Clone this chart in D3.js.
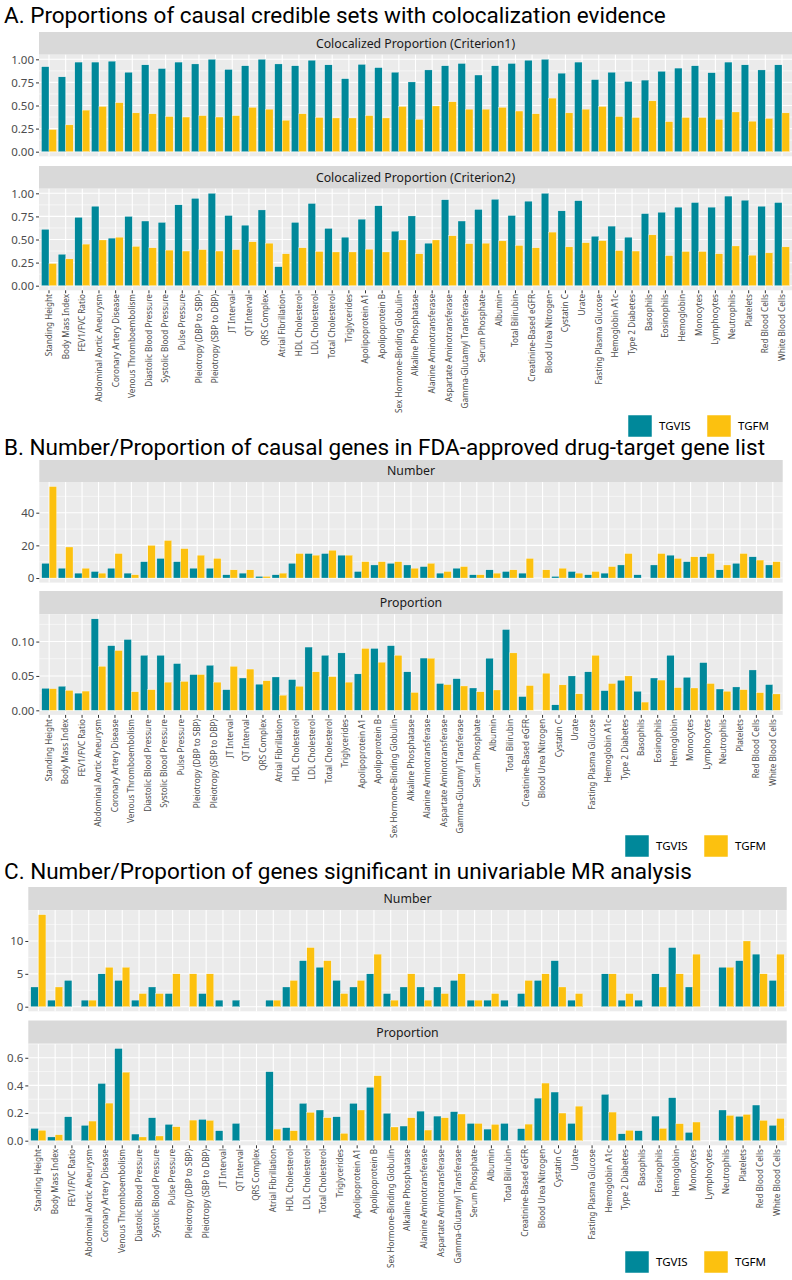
<!DOCTYPE html>
<html>
<head>
<meta charset="utf-8">
<script src="https://cdn.jsdelivr.net/npm/d3@7"></script>
<style>
  body { margin: 0; background: #fff; }
  text { font-family: "Noto Sans", sans-serif; }
</style>
</head>
<body>
<script>
// categories (same order in all three figures)
var categories = ["Standing Height", "Body Mass Index", "FEV1/FVC Ratio", "Abdominal Aortic Aneurysm",
  "Coronary Artery Disease", "Venous Thromboembolism", "Diastolic Blood Pressure", "Systolic Blood Pressure",
  "Pulse Pressure", "Pleiotropy (DBP to SBP)", "Pleiotropy (SBP to DBP)", "JT Interval", "QT Interval",
  "QRS Complex", "Atrial Fibrillation", "HDL Cholesterol", "LDL Cholesterol", "Total Cholesterol",
  "Triglycerides", "Apolipoprotein A1", "Apolipoprotein B", "Sex Hormone-Binding Globulin",
  "Alkaline Phosphatase", "Alanine Aminotransferase", "Aspartate Aminotransferase",
  "Gamma-Glutamyl Transferase", "Serum Phosphate", "Albumin", "Total Bilirubin", "Creatinine-Based eGFR",
  "Blood Urea Nitrogen", "Cystatin C", "Urate", "Fasting Plasma Glucose", "Hemoglobin A1c",
  "Type 2 Diabetes", "Basophils", "Eosinophils", "Hemoglobin", "Monocytes", "Lymphocytes", "Neutrophils",
  "Platelets", "Red Blood Cells", "White Blood Cells"];
var methods = ["TGVIS", "TGFM"];

// A. colocalized proportion
var colocC1_TGVIS = [0.92, 0.81, 0.97, 0.97, 0.98, 0.86, 0.94, 0.90, 0.97, 0.95, 1.00, 0.89, 0.93, 1.00, 0.95,
  0.93, 0.99, 0.94, 0.79, 0.945, 0.91, 0.86, 0.755, 0.885, 0.93, 0.955, 0.83, 0.93, 0.955, 0.99, 1.00, 0.85,
  0.97, 0.78, 0.86, 0.76, 0.775, 0.87, 0.905, 0.93, 0.855, 0.97, 0.94, 0.885, 0.94];
var colocC1_TGFM = [0.24, 0.29, 0.45, 0.49, 0.53, 0.42, 0.41, 0.38, 0.375, 0.39, 0.375, 0.39, 0.48, 0.46, 0.34,
  0.41, 0.37, 0.365, 0.365, 0.39, 0.365, 0.49, 0.35, 0.495, 0.54, 0.46, 0.46, 0.48, 0.44, 0.41, 0.58, 0.42,
  0.46, 0.49, 0.38, 0.37, 0.55, 0.325, 0.37, 0.37, 0.35, 0.43, 0.33, 0.36, 0.42];
var colocC2_TGVIS = [0.61, 0.34, 0.74, 0.86, 0.515, 0.75, 0.70, 0.685, 0.875, 0.945, 1.00, 0.76, 0.655, 0.82, 0.205,
  0.685, 0.89, 0.62, 0.525, 0.72, 0.865, 0.59, 0.755, 0.46, 0.93, 0.70, 0.825, 0.935, 0.76, 0.915, 1.00, 0.81,
  0.92, 0.535, 0.645, 0.525, 0.78, 0.795, 0.85, 0.90, 0.85, 0.97, 0.925, 0.86, 0.90];
var colocC2_TGFM = [0.24, 0.29, 0.45, 0.495, 0.525, 0.425, 0.41, 0.385, 0.375, 0.39, 0.375, 0.39, 0.475, 0.46, 0.345,
  0.41, 0.37, 0.365, 0.365, 0.395, 0.365, 0.495, 0.345, 0.495, 0.54, 0.455, 0.46, 0.485, 0.435, 0.41, 0.58, 0.42,
  0.465, 0.487, 0.38, 0.375, 0.55, 0.325, 0.37, 0.37, 0.345, 0.43, 0.33, 0.355, 0.42];
var colocTicks = [0, 0.25, 0.5, 0.75, 1];
var colocTickLabels = ["0.00", "0.25", "0.50", "0.75", "1.00"];

// B. FDA-approved drug-target genes
var fdaNumber_TGVIS = [9, 6, 3, 4, 6, 3, 10, 12, 10, 6, 6, 2, 3, 1, 2, 9, 15, 15, 14, 4, 8, 9, 8, 7, 3, 6, 2, 5, 4, 3,
  0, 1, 4, 2, 3, 8, 2, 8, 14, 10, 13, 5, 9, 13, 8];
var fdaNumber_TGFM = [56, 19, 6, 3, 15, 2, 20, 23, 18, 14, 12, 5, 5, 1, 3, 15, 14, 17, 14, 10, 10, 10, 6, 9, 4, 7, 2,
  3, 5, 12, 5, 6, 3, 4, 7, 15, 0, 15, 12, 13, 15, 8, 15, 11, 10];
var fdaProp_TGVIS = [0.032, 0.035, 0.025, 0.133, 0.094, 0.103, 0.080, 0.080, 0.068, 0.052, 0.0655, 0.030, 0.047,
  0.038, 0.0485, 0.0447, 0.092, 0.080, 0.0835, 0.053, 0.090, 0.094, 0.056, 0.076, 0.039, 0.046, 0.0325, 0.0757,
  0.1175, 0.020, 0, 0.008, 0.050, 0.056, 0.0286, 0.0437, 0.0277, 0.047, 0.080, 0.048, 0.0694, 0.031, 0.034,
  0.0587, 0.0374];
var fdaProp_TGFM = [0.0315, 0.029, 0.028, 0.064, 0.087, 0.027, 0.030, 0.041, 0.042, 0.052, 0.041, 0.064, 0.060,
  0.043, 0.022, 0.035, 0.056, 0.049, 0.041, 0.090, 0.070, 0.080, 0.026, 0.0757, 0.0374, 0.0354, 0.027, 0.0296,
  0.0835, 0.036, 0.054, 0.037, 0.024, 0.080, 0.039, 0.050, 0.012, 0.044, 0.033, 0.0325, 0.039, 0.0277, 0.030,
  0.0257, 0.0238];
var fdaNumberTicks = [0, 20, 40];
var fdaNumberTickLabels = ["0", "20", "40"];
var fdaPropTicks = [0, 0.05, 0.10];
var fdaPropTickLabels = ["0.00", "0.05", "0.10"];

// C. univariable MR
var mrNumber_TGVIS = [3, 1, 4, 1, 5, 4, 1, 3, 2, 0, 2, 1, 1, 0, 1, 3, 7, 6, 4, 3, 5, 2, 3, 3, 3, 4, 1, 1, 1, 2, 4, 7,
  1, 0, 5, 1, 1, 5, 9, 3, 0, 6, 7, 8, 4];
var mrNumber_TGFM = [14, 3, 0, 1, 6, 6, 2, 2, 5, 5, 5, 0, 0, 0, 1, 4, 9, 7, 2, 4, 8, 1, 5, 1, 2, 5, 1, 2, 0, 4, 5, 3,
  2, 0, 5, 2, 0, 3, 5, 8, 0, 6, 10, 5, 8];
var mrProp_TGVIS = [0.089, 0.027, 0.173, 0.111, 0.414, 0.667, 0.048, 0.166, 0.118, 0, 0.154, 0.072, 0.125, 0, 0.499,
  0.094, 0.27, 0.222, 0.173, 0.27, 0.386, 0.198, 0.106, 0.214, 0.178, 0.21, 0.125, 0.084, 0.125, 0.087, 0.308,
  0.352, 0.125, 0, 0.335, 0.05, 0.072, 0.178, 0.311, 0.06, 0, 0.222, 0.176, 0.258, 0.111];
var mrProp_TGFM = [0.075, 0.043, 0, 0.142, 0.272, 0.496, 0.027, 0.034, 0.101, 0.149, 0.147, 0, 0, 0, 0.084, 0.072,
  0.205, 0.166, 0.053, 0.222, 0.47, 0.099, 0.166, 0.077, 0.166, 0.193, 0.125, 0.118, 0, 0.12, 0.417, 0.20, 0.25, 0,
  0.207, 0.075, 0, 0.089, 0.123, 0.135, 0, 0.183, 0.19, 0.147, 0.161];
var mrNumberTicks = [0, 5, 10];
var mrNumberTickLabels = ["0", "5", "10"];
var mrPropTicks = [0, 0.2, 0.4, 0.6];
var mrPropTickLabels = ["0.0", "0.2", "0.4", "0.6"];

var colors = { TGVIS: "#00889a", TGFM: "#fcc10f" };

var svg = d3.select("body")
  .append("svg")
  .attr("width", 792)
  .attr("height", 1280);

// layout of the three stacked figures
var figures = [
  {
    title: "A. Proportions of causal credible sets with colocalization evidence",
    titleY: 23, left: 39, right: 792, labelTop: 294, legendY: 426, legendX: 628,
    panels: [
      { strip: "Colocalized Proportion (Criterion1)", stripTop: 32, top: 54.7, bottom: 156.3,
        a: colocC1_TGVIS, b: colocC1_TGFM, ticks: colocTicks, labels: colocTickLabels },
      { strip: "Colocalized Proportion (Criterion2)", stripTop: 166, top: 188.7, bottom: 290.3,
        a: colocC2_TGVIS, b: colocC2_TGFM, ticks: colocTicks, labels: colocTickLabels }
    ]
  },
  {
    title: "B. Number/Proportion of causal genes in FDA-approved drug-target gene list",
    titleY: 455, left: 39.3, right: 782.7, labelTop: 719, legendY: 846, legendX: 625,
    panels: [
      { strip: "Number", stripTop: 460, top: 482, bottom: 582.6,
        a: fdaNumber_TGVIS, b: fdaNumber_TGFM, ticks: fdaNumberTicks, labels: fdaNumberTickLabels },
      { strip: "Proportion", stripTop: 591, top: 614.3, bottom: 714.9,
        a: fdaProp_TGVIS, b: fdaProp_TGFM, ticks: fdaPropTicks, labels: fdaPropTickLabels }
    ]
  },
  {
    title: "C. Number/Proportion of genes significant in univariable MR analysis",
    titleY: 879, left: 28.3, right: 786.7, labelTop: 1149, legendY: 1262, legendX: 625,
    panels: [
      { strip: "Number", stripTop: 887, top: 910.1, bottom: 1011.3,
        a: mrNumber_TGVIS, b: mrNumber_TGFM, ticks: mrNumberTicks, labels: mrNumberTickLabels },
      { strip: "Proportion", stripTop: 1020.5, top: 1043.9, bottom: 1145.3,
        a: mrProp_TGVIS, b: mrProp_TGFM, ticks: mrPropTicks, labels: mrPropTickLabels }
    ]
  }
];

figures.forEach(function(fig) {
  var g = svg.append("g");

  // x scales: ggplot discrete expansion of 0.6 -> outer padding 0.1 of a step
  var x = d3.scaleBand()
    .domain(categories)
    .range([fig.left, fig.right])
    .paddingInner(0)
    .paddingOuter(0.1);
  var xSub = d3.scaleBand()
    .domain(methods)
    .range([x.bandwidth() * 0.05, x.bandwidth() * 0.95]);

  g.append("text")
    .attr("x", 4)
    .attr("y", fig.titleY)
    .style("font-family", "Roboto, sans-serif")
    .attr("font-size", "22.5px")
    .attr("fill", "#000")
    .text(fig.title);

  fig.panels.forEach(function(p, pi) {
    var maxVal = d3.max(p.a.concat(p.b));
    var y = d3.scaleLinear()
      .domain([-0.05 * maxVal, 1.05 * maxVal])
      .range([p.bottom, p.top]);

    // strip
    g.append("rect")
      .attr("x", fig.left).attr("y", p.stripTop)
      .attr("width", fig.right - fig.left).attr("height", p.top - p.stripTop)
      .attr("fill", "#d9d9d9");
    g.append("text")
      .attr("x", (fig.left + fig.right) / 2)
      .attr("y", (p.stripTop + p.top) / 2)
      .attr("dy", "0.35em")
      .attr("text-anchor", "middle")
      .attr("font-size", "12.3px")
      .attr("fill", "#1a1a1a")
      .text(p.strip);

    // panel background + grid
    g.append("rect")
      .attr("x", fig.left).attr("y", p.top)
      .attr("width", fig.right - fig.left).attr("height", p.bottom - p.top)
      .attr("fill", "#ebebeb");

    var step = p.ticks[1] - p.ticks[0];
    var minor = p.ticks.map(function(t) { return t + step / 2; })
      .filter(function(t) { return t <= y.domain()[1]; });
    g.selectAll(null).data(minor).enter().append("line")
      .attr("x1", fig.left).attr("x2", fig.right)
      .attr("y1", d => y(d)).attr("y2", d => y(d))
      .attr("stroke", "#fff").attr("stroke-width", 0.55);
    g.selectAll(null).data(p.ticks).enter().append("line")
      .attr("x1", fig.left).attr("x2", fig.right)
      .attr("y1", d => y(d)).attr("y2", d => y(d))
      .attr("stroke", "#fff").attr("stroke-width", 1.1);
    g.selectAll(null).data(categories).enter().append("line")
      .attr("x1", d => x(d) + x.bandwidth() / 2).attr("x2", d => x(d) + x.bandwidth() / 2)
      .attr("y1", p.top).attr("y2", p.bottom)
      .attr("stroke", "#fff").attr("stroke-width", 1.1);

    // bars
    var rows = [];
    categories.forEach(function(c, i) {
      rows.push({ cat: c, method: "TGVIS", value: p.a[i] });
      rows.push({ cat: c, method: "TGFM", value: p.b[i] });
    });
    g.selectAll(null).data(rows).enter().append("rect")
      .attr("x", d => x(d.cat) + xSub(d.method))
      .attr("width", xSub.bandwidth())
      .attr("y", d => y(d.value))
      .attr("height", d => y(0) - y(d.value))
      .attr("fill", d => colors[d.method])
      .attr("stroke", "#fff")
      .attr("stroke-width", 0.3);

    // y axis
    var yAxis = d3.axisLeft(y)
      .tickValues(p.ticks)
      .tickFormat(function(d, i) { return p.labels[i]; })
      .tickSize(3)
      .tickPadding(2);
    var ya = g.append("g")
      .attr("transform", "translate(" + fig.left + ",0)")
      .call(yAxis);
    ya.select(".domain").remove();
    ya.selectAll("line").attr("stroke", "#333");
    ya.selectAll("text")
      .style("font-family", "'Noto Sans', sans-serif")
      .attr("font-size", "11.5px")
      .attr("fill", "#4d4d4d");

    // x axis on the bottom panel only
    if (pi === fig.panels.length - 1) {
      g.selectAll(null).data(categories).enter().append("line")
        .attr("x1", d => x(d) + x.bandwidth() / 2).attr("x2", d => x(d) + x.bandwidth() / 2)
        .attr("y1", p.bottom).attr("y2", p.bottom + 3)
        .attr("stroke", "#333");
      g.selectAll(null).data(categories).enter().append("text")
        .attr("transform", d => "translate(" + (x(d) + x.bandwidth() / 2) + "," + fig.labelTop + ") rotate(-90)")
        .attr("dy", "0.35em")
        .attr("text-anchor", "end")
        .attr("font-size", "8.2px")
        .attr("fill", "#4d4d4d")
        .text(d => d);
    }
  });

  // legend
  var legend = g.append("g")
    .attr("transform", "translate(" + fig.legendX + "," + fig.legendY + ")");
  var offsets = [0, 79];
  methods.forEach(function(m, i) {
    legend.append("rect")
      .attr("x", offsets[i]).attr("y", -11)
      .attr("width", 24).attr("height", 22)
      .attr("fill", colors[m])
      .attr("stroke", "#fff").attr("stroke-width", 0.5);
    legend.append("text")
      .attr("x", offsets[i] + 31).attr("y", 0)
      .attr("dy", "0.35em")
      .attr("font-size", "11.5px")
      .attr("fill", "#000")
      .text(m);
  });
});
</script>
</body>
</html>
